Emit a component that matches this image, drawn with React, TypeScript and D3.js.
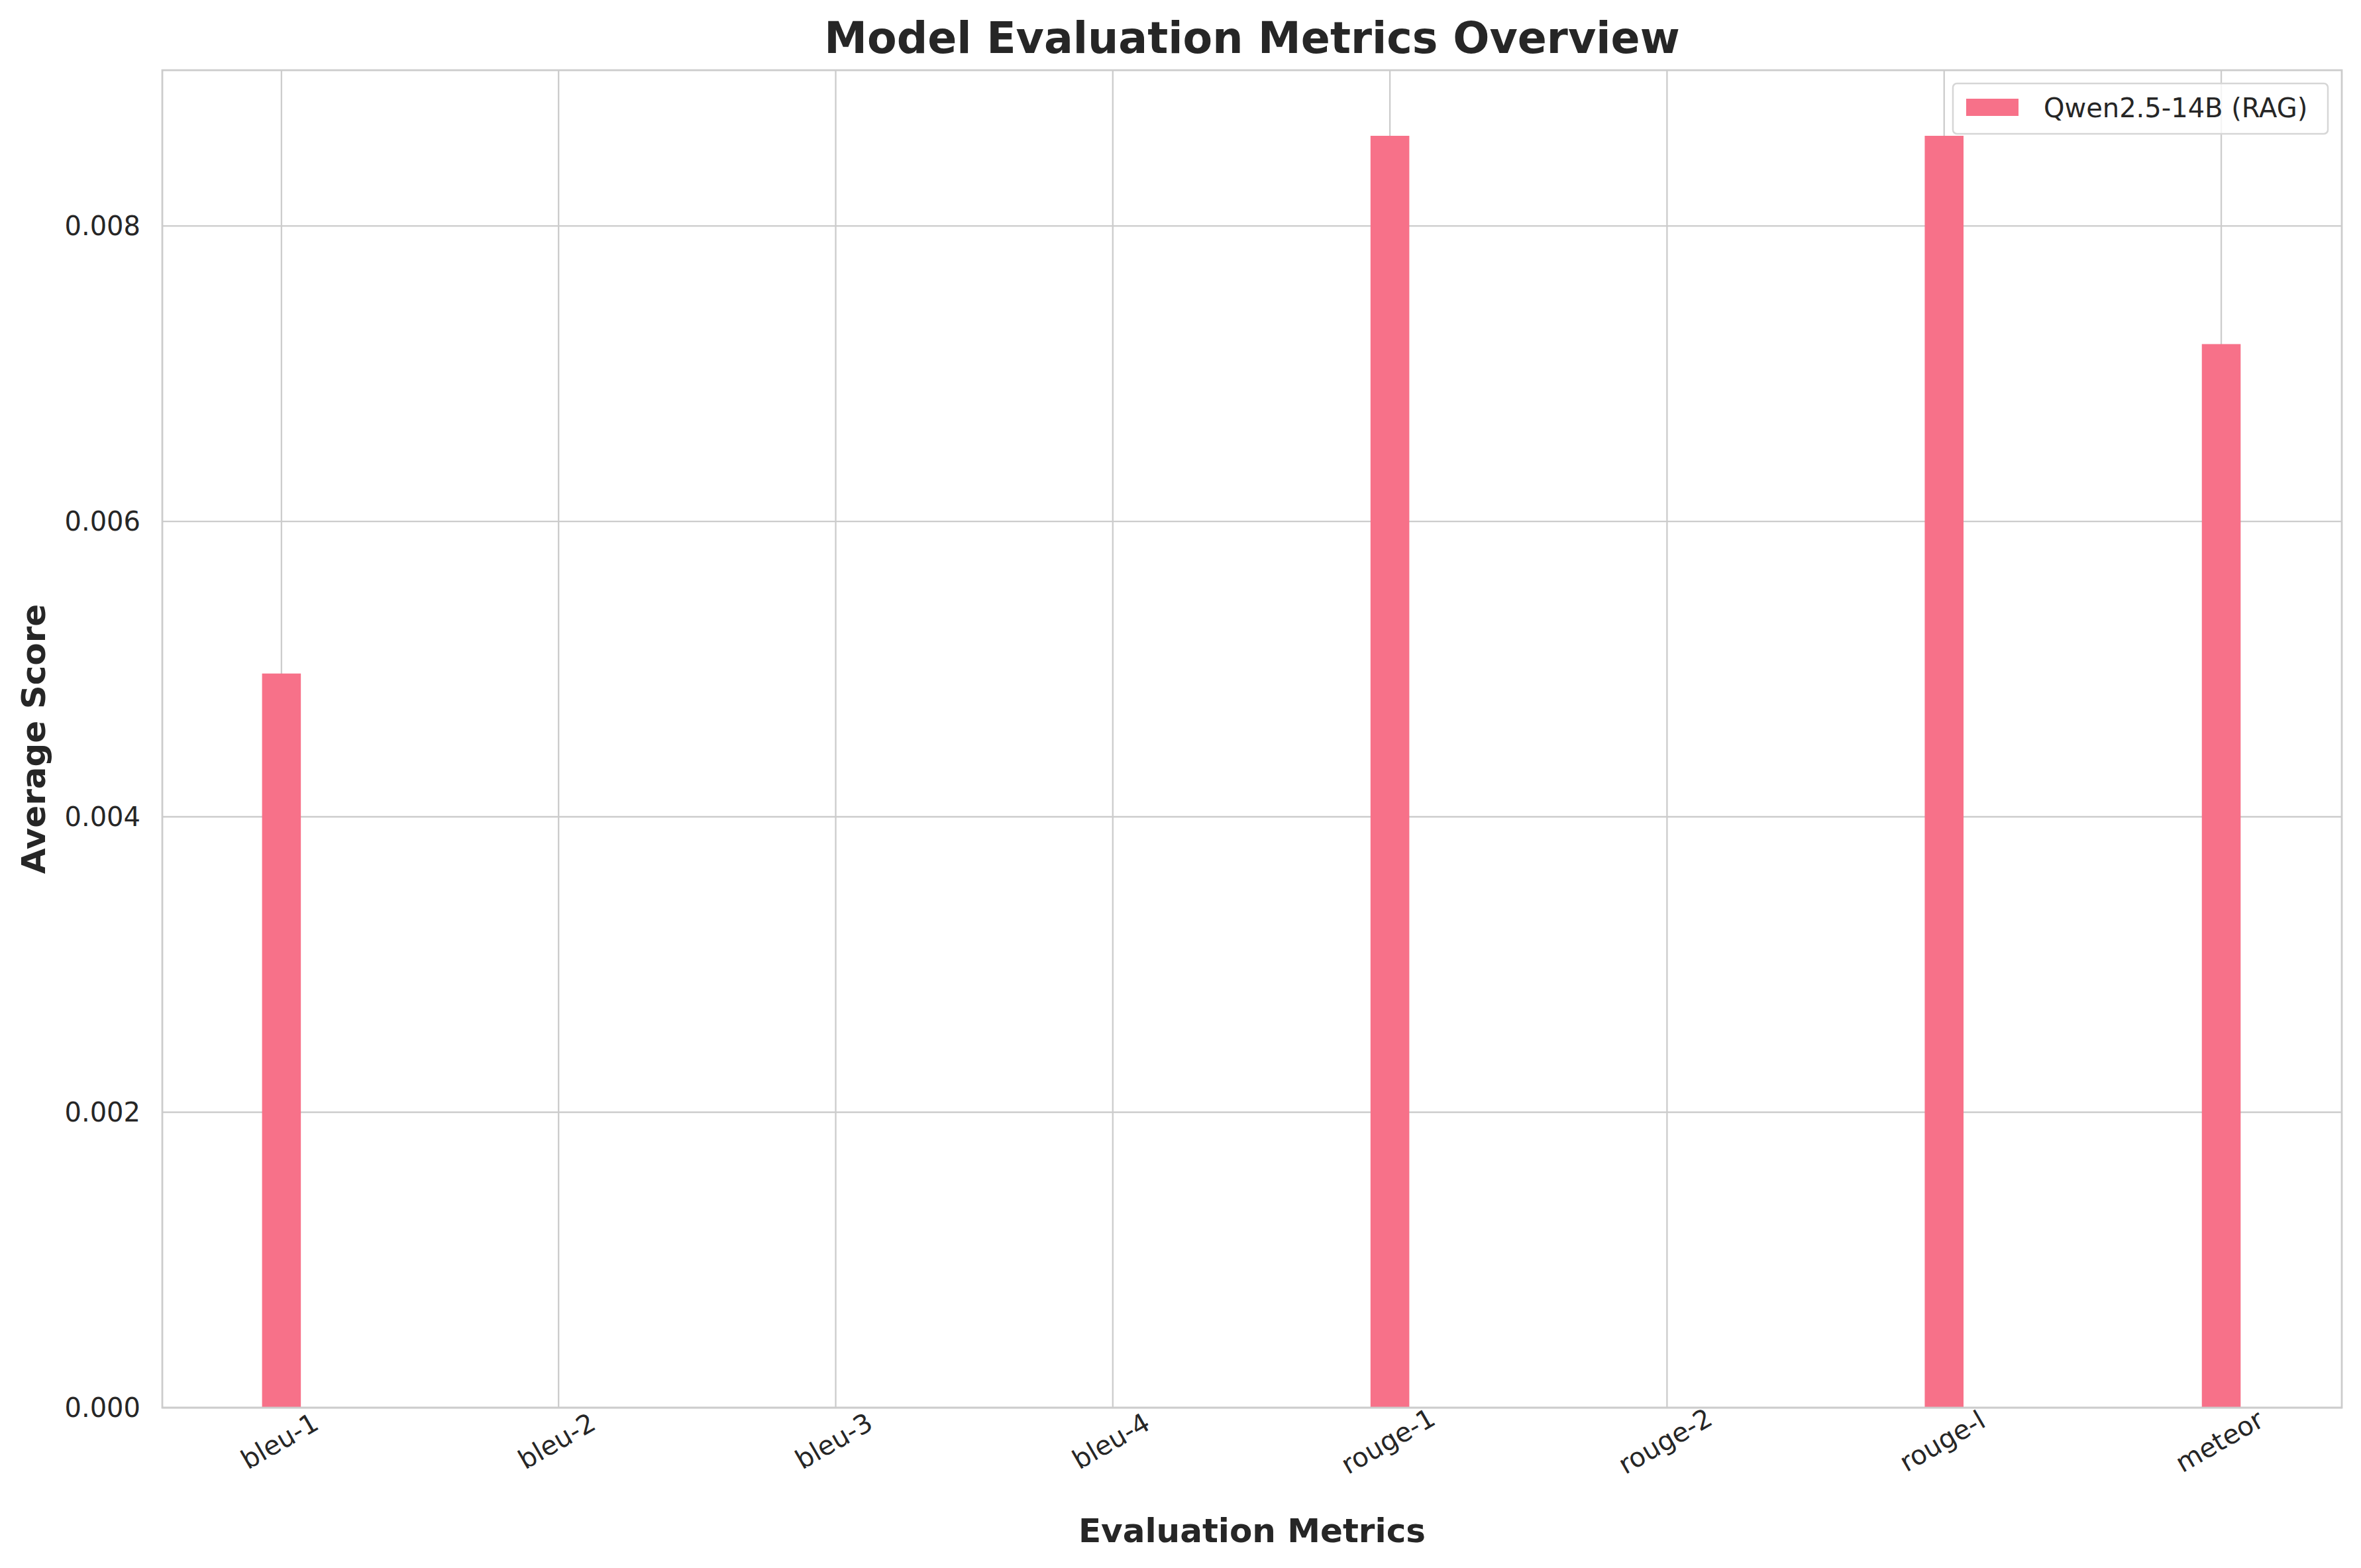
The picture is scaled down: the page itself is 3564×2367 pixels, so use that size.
import * as d3 from 'd3';

const metrics = ['bleu-1', 'bleu-2', 'bleu-3', 'bleu-4', 'rouge-1', 'rouge-2', 'rouge-l', 'meteor'];
const scores = [0.00497, 0, 0, 0, 0.00861, 0, 0.00861, 0.0072];
const yTicks = [0, 0.002, 0.004, 0.006, 0.008];
const seriesName = 'Qwen2.5-14B (RAG)';

const W = 3564;
const H = 2367;
const m = { left: 245, right: 3535, top: 106, bottom: 2125 };
const font = '"DejaVu Sans", sans-serif';
const grid = '#cccccc';
const barColor = '#f77189';

export default function App() {
  const x = d3.scaleLinear().domain([-0.43, 7.435]).range([m.left, m.right]);
  const y = d3.scaleLinear().domain([0, 0.009054]).range([m.bottom, m.top]);
  const bw = (x(1) - x(0)) * 0.14;

  return (
    <svg width={W} height={H} style={{ display: 'block', margin: -8 }} fontFamily={font}>
      <rect width={W} height={H} fill="#fff" />
      {yTicks.map((t) => (
        <g key={t}>
          <line x1={m.left} x2={m.right} y1={y(t)} y2={y(t)} stroke={grid} strokeWidth={2.3} />
          <text x={m.left - 33} y={y(t)} dy="0.36em" textAnchor="end" fontSize={40} fill="#262626">
            {t.toFixed(3)}
          </text>
        </g>
      ))}
      {metrics.map((c, i) => (
        <g key={c}>
          <line x1={x(i)} x2={x(i)} y1={m.top} y2={m.bottom} stroke={grid} strokeWidth={2.3} />
          <text
            transform={`translate(${x(i) - 3},${m.bottom + 50}) rotate(-30)`}
            textAnchor="middle"
            dy="0.36em"
            fontSize={40}
            fill="#262626"
          >
            {c}
          </text>
        </g>
      ))}
      {scores.map((v, i) => (
        <rect key={i} x={x(i) - bw / 2} y={y(v)} width={bw} height={y(0) - y(v)} fill={barColor} />
      ))}
      <rect
        x={m.left}
        y={m.top}
        width={m.right - m.left}
        height={m.bottom - m.top}
        fill="none"
        stroke={grid}
        strokeWidth={2.8}
      />
      <g>
        <rect x={2948} y={126} width={566} height={76} rx={6} fill="#fff" fillOpacity={0.8} stroke="#d6d6d6" strokeWidth={2.5} />
        <rect x={2968} y={149} width={79} height={26} fill={barColor} />
        <text x={3085} y={177} fontSize={40} fill="#262626">{seriesName}</text>
      </g>
      <text x={(m.left + m.right) / 2} y={80} textAnchor="middle" fontSize={65} fontWeight="bold" fill="#262626">
        Model Evaluation Metrics Overview
      </text>
      <text x={(m.left + m.right) / 2} y={2328} textAnchor="middle" fontSize={50} fontWeight="bold" fill="#262626">
        Evaluation Metrics
      </text>
      <text
        transform={`translate(68,${(m.top + m.bottom) / 2}) rotate(-90)`}
        textAnchor="middle"
        fontSize={50}
        fontWeight="bold"
        fill="#262626"
      >
        Average Score
      </text>
    </svg>
  );
}
